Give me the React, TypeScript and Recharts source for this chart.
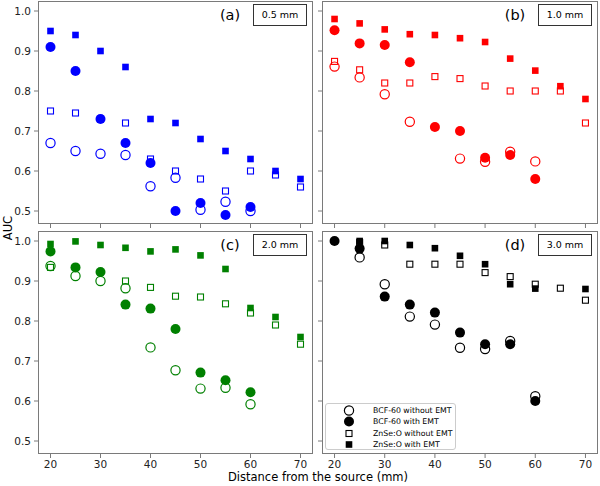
import React from "react"
import { ScatterChart, Scatter, XAxis, YAxis } from "recharts"

const distances = [20, 25, 30, 35, 40, 45, 50, 55, 60, 65, 70]
const xTicks = [20, 30, 40, 50, 60, 70]
const yTicks = [0.5, 0.6, 0.7, 0.8, 0.9, 1.0]

const seriesNames = ["BCF-60 without EMT", "BCF-60 with EMT", "ZnSe:O without EMT", "ZnSe:O with EMT"]
const panelLetters = ["(a)", "(b)", "(c)", "(d)"]
const thicknesses = ["0.5 mm", "1.0 mm", "2.0 mm", "3.0 mm"]
const panelColors = ["#0000ff", "#ff0000", "#008000", "#000000"]

// (a) 0.5 mm
const aBcfNo = [0.67, 0.65, 0.643, 0.64, 0.562, 0.583, 0.503, 0.523, 0.5, null, null]
const aBcfEmt = [0.91, 0.85, 0.73, 0.67, 0.62, 0.5, 0.52, 0.49, 0.51, null, null]
const aZnNo = [0.75, 0.745, 0.73, 0.72, 0.63, 0.6, 0.58, 0.55, 0.6, 0.59, 0.56]
const aZnEmt = [0.95, 0.94, 0.9, 0.86, 0.73, 0.72, 0.68, 0.65, 0.63, 0.6, 0.58]

// (b) 1.0 mm
const bBcfNo = [0.861, 0.834, 0.792, 0.723, null, 0.631, 0.623, 0.648, 0.624, null, null]
const bBcfEmt = [0.952, 0.919, 0.915, 0.872, 0.71, 0.7, 0.633, 0.64, 0.58, null, null]
const bZnNo = [0.874, 0.853, 0.82, 0.82, 0.836, 0.831, 0.8125, 0.8, 0.8, 0.8, 0.72]
const bZnEmt = [0.98, 0.969, 0.954, 0.942, 0.94, 0.932, 0.9225, 0.881, 0.851, 0.812, 0.78]

// (c) 2.0 mm
const cBcfNo = [0.9375, 0.9125, 0.9, 0.882, 0.734, 0.677, 0.631, 0.633, 0.592, null, null]
const cBcfEmt = [0.974, 0.934, 0.9225, 0.841, 0.831, 0.78, 0.671, 0.652, 0.622, null, null]
const cZnNo = [0.934, null, null, 0.9, 0.884, 0.862, 0.86, 0.843, 0.82, 0.79, 0.742]
const cZnEmt = [0.9925, 0.999, 0.99, 0.983, 0.974, 0.979, 0.964, 0.93, 0.8325, 0.81, 0.76]

// (d) 3.0 mm
const dBcfNo = [null, 0.959, 0.892, 0.811, 0.791, 0.733, 0.73, 0.75, 0.612, null, null]
const dBcfEmt = [1.0, 0.981, 0.861, 0.841, 0.821, 0.771, 0.742, 0.742, 0.6, null, null]
const dZnNo = [null, 0.996, 0.99, 0.942, 0.942, 0.942, 0.921, 0.911, 0.892, 0.882, 0.852]
const dZnEmt = [null, 1.0, 1.0, 0.99, 0.982, 0.963, 0.942, 0.892, 0.881, null, 0.88]

const panelSeries = [
  [aBcfNo, aBcfEmt, aZnNo, aZnEmt],
  [bBcfNo, bBcfEmt, bZnNo, bZnEmt],
  [cBcfNo, cBcfEmt, cZnNo, cZnEmt],
  [dBcfNo, dBcfEmt, dZnNo, dZnEmt],
]

const toPoints = (values: (number | null)[]) =>
  distances.map((x, i) => ({ x, y: values[i] })).filter((p) => p.y !== null)

const FONT = "'DejaVu Sans', sans-serif"
const FRAME = "#7a7a7a"

const marker = (kind: number, color: string) => (props: any) => {
  const { cx, cy } = props
  if (kind === 0) return <circle cx={cx} cy={cy} r={4.6} fill="none" stroke={color} strokeWidth={1.2} />
  if (kind === 1) return <circle cx={cx} cy={cy} r={5} fill={color} />
  if (kind === 2)
    return <rect x={cx - 3} y={cy - 3} width={6} height={6} fill="none" stroke={color} strokeWidth={1.1} />
  return <rect x={cx - 3.3} y={cy - 3.3} width={6.6} height={6.6} fill={color} />
}

const Panel = ({ index }: { index: number }) => {
  const isLeft = index % 2 === 0
  const isBottom = index >= 2
  const plotLeft = isLeft ? 38 : 322
  const plotWidth = isLeft ? 275 : 276
  const plotTop = isBottom ? 231 : 1
  const plotHeight = 223
  const yAxisWidth = isLeft ? 38 : 8
  const xAxisHeight = isBottom ? 24 : 6
  const color = panelColors[index]
  return (
    <>
      <div style={{ position: "absolute", left: plotLeft - yAxisWidth, top: plotTop }}>
        <ScatterChart
          width={yAxisWidth + plotWidth}
          height={plotHeight + xAxisHeight}
          margin={{ top: 0, right: 0, bottom: 0, left: 0 }}
        >
          <XAxis
            type="number"
            dataKey="x"
            domain={[17.5, 72.5]}
            ticks={xTicks}
            allowDataOverflow
            height={xAxisHeight}
            axisLine={false}
            tickSize={4}
            tickMargin={3}
            tickLine={{ stroke: FRAME }}
            tick={{ fill: "#222", fontSize: 10.5, fontFamily: FONT }}
            tickFormatter={(v) => (isBottom ? String(v) : "")}
          />
          <YAxis
            type="number"
            dataKey="y"
            domain={[0.4675, 1.025]}
            ticks={yTicks}
            allowDataOverflow
            width={yAxisWidth}
            axisLine={false}
            tickSize={4}
            tickMargin={3}
            tickLine={{ stroke: FRAME }}
            tick={{ fill: "#222", fontSize: 10.5, fontFamily: FONT }}
            tickFormatter={(v) => (isLeft ? v.toFixed(1) : "")}
          />
          {panelSeries[index].map((values, k) => (
            <Scatter
              key={k}
              name={seriesNames[k]}
              data={toPoints(values)}
              shape={marker(k, color)}
              isAnimationActive={false}
            />
          ))}
        </ScatterChart>
      </div>
      <div
        style={{
          position: "absolute",
          left: plotLeft,
          top: plotTop,
          width: plotWidth,
          height: plotHeight,
          border: `1px solid ${FRAME}`,
          boxSizing: "border-box",
          pointerEvents: "none",
        }}
      />
      <div
        style={{
          position: "absolute",
          left: plotLeft + plotWidth - 99,
          top: plotTop + 4,
          width: 32,
          textAlign: "center",
          fontFamily: FONT,
          fontSize: 14.5,
          lineHeight: "20px",
          color: "#000",
        }}
      >
        {panelLetters[index]}
      </div>
      <div
        style={{
          position: "absolute",
          left: plotLeft + plotWidth - 60,
          top: plotTop + 3,
          width: 54,
          height: 22,
          border: "1px solid #333",
          boxSizing: "border-box",
          background: "#fff",
          textAlign: "center",
          fontFamily: FONT,
          fontSize: 9.5,
          lineHeight: "20px",
          color: "#000",
        }}
      >
        {thicknesses[index]}
      </div>
    </>
  )
}

const LegendBox = () => (
  <div
    style={{
      position: "absolute",
      left: 325,
      top: 403,
      width: 131,
      height: 47,
      border: "1px solid #cccccc",
      borderRadius: 3,
      background: "#fff",
      boxSizing: "border-box",
      fontFamily: FONT,
      fontSize: 7.8,
      color: "#000",
    }}
  >
    {seriesNames.map((name, k) => (
      <div key={k} style={{ position: "absolute", left: 0, top: 1 + k * 11.3, height: 11, width: 131 }}>
        <svg width={20} height={11} style={{ position: "absolute", left: 13, top: 0 }}>
          {marker(k, "#000")({ cx: 10, cy: 5.5 })}
        </svg>
        <span style={{ position: "absolute", left: 47, top: 0, lineHeight: "11px", whiteSpace: "nowrap" }}>
          {name}
        </span>
      </div>
    ))}
  </div>
)

export default function App() {
  return (
    <div style={{ position: "absolute", left: 0, top: 0, width: 600, height: 486, background: "#fff" }}>
      {[0, 1, 2, 3].map((i) => (
        <Panel key={i} index={i} />
      ))}
      <LegendBox />
      <div
        style={{
          position: "absolute",
          left: 8,
          top: 228,
          transform: "translate(-50%, -50%) rotate(-90deg)",
          fontFamily: FONT,
          fontSize: 11.5,
          color: "#000",
          whiteSpace: "nowrap",
        }}
      >
        AUC
      </div>
      <div
        style={{
          position: "absolute",
          left: 318,
          top: 477,
          transform: "translate(-50%, -50%)",
          fontFamily: FONT,
          fontSize: 11.5,
          color: "#000",
          whiteSpace: "nowrap",
        }}
      >
        Distance from the source (mm)
      </div>
    </div>
  )
}
